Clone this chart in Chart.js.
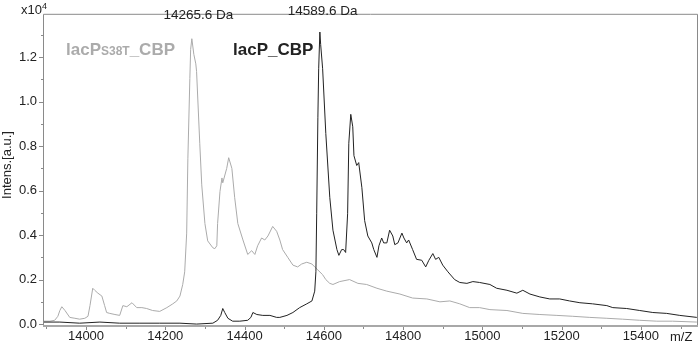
<!DOCTYPE html>
<html><head><meta charset="utf-8">
<script src="https://cdn.jsdelivr.net/npm/chart.js@4"></script>
<style>html,body{margin:0;padding:0;background:#fff}#wrap{position:relative;width:700px;height:344px}</style>
</head><body><div id="wrap"><canvas id="c" width="700" height="344"></canvas></div>
<script>
// m/z values and intensities (x10^4 a.u.)
const grayMz = [13891,13909,13921,13929,13934,13939,13947,13959,13972,13984,13997,14005,14010,14017,14022,14030,14040,14047,14052,14060,14073,14085,14093,14103,14116,14128,14141,14153,14168,14186,14204,14219,14229,14237,14244,14249,14254,14257,14262,14264,14267,14272,14277,14279,14287,14292,14300,14307,14320,14325,14330,14332,14338,14343,14345,14355,14360,14368,14375,14383,14396,14408,14418,14426,14433,14443,14451,14459,14471,14481,14489,14496,14509,14522,14534,14544,14557,14570,14577,14585,14597,14605,14615,14623,14640,14665,14686,14708,14734,14759,14792,14824,14860,14893,14918,14943,14968,14993,15019,15062,15102,15145,15188,15228,15271,15314,15354,15397,15440,15480,15541];
const grayInt = [0.013,0.013,0.017,0.035,0.061,0.078,0.061,0.030,0.026,0.022,0.026,0.035,0.083,0.161,0.152,0.139,0.126,0.083,0.052,0.048,0.043,0.039,0.083,0.078,0.096,0.074,0.074,0.070,0.061,0.057,0.074,0.091,0.104,0.126,0.178,0.235,0.409,0.743,1.104,1.235,1.283,1.213,1.170,1.135,0.813,0.626,0.452,0.374,0.343,0.339,0.352,0.452,0.596,0.657,0.635,0.700,0.748,0.700,0.570,0.452,0.378,0.313,0.330,0.313,0.352,0.387,0.378,0.396,0.439,0.417,0.378,0.335,0.300,0.265,0.257,0.270,0.278,0.270,0.257,0.243,0.222,0.200,0.183,0.178,0.191,0.200,0.183,0.178,0.161,0.148,0.135,0.117,0.113,0.100,0.104,0.091,0.074,0.074,0.065,0.061,0.048,0.043,0.039,0.035,0.030,0.026,0.022,0.017,0.013,0.013,0.009];
const blackMz = [13891,13934,13984,14035,14085,14136,14186,14237,14279,14320,14332,14340,14345,14350,14358,14370,14388,14408,14416,14421,14431,14446,14464,14481,14489,14507,14522,14539,14557,14570,14577,14580,14582,14585,14587,14590,14592,14597,14605,14615,14623,14633,14638,14645,14650,14655,14660,14663,14668,14673,14676,14683,14688,14696,14703,14711,14721,14726,14734,14739,14746,14751,14759,14766,14774,14779,14787,14797,14802,14809,14814,14824,14834,14847,14857,14865,14875,14882,14890,14900,14913,14930,14943,14961,14976,14993,15019,15036,15062,15087,15102,15120,15145,15170,15195,15220,15246,15278,15314,15329,15364,15397,15430,15465,15498,15541];
const blackInt = [0.009,0.009,0.004,0.009,0.004,0.004,0.004,0.004,0.000,0.004,0.017,0.039,0.070,0.052,0.026,0.013,0.013,0.017,0.030,0.052,0.043,0.039,0.039,0.030,0.030,0.039,0.052,0.074,0.091,0.104,0.148,0.235,0.496,0.930,1.148,1.313,1.257,1.148,0.857,0.570,0.422,0.335,0.309,0.335,0.335,0.322,0.496,0.813,0.943,0.887,0.757,0.713,0.726,0.613,0.465,0.396,0.365,0.335,0.300,0.352,0.387,0.365,0.365,0.422,0.396,0.357,0.365,0.409,0.387,0.365,0.378,0.335,0.291,0.287,0.257,0.287,0.317,0.291,0.300,0.265,0.235,0.200,0.187,0.183,0.191,0.187,0.178,0.161,0.152,0.139,0.152,0.135,0.122,0.113,0.113,0.104,0.096,0.091,0.083,0.074,0.070,0.061,0.052,0.048,0.039,0.030];
const xTicks = [14000,14200,14400,14600,14800,15000,15200,15400];
const xMinor = [13900,14100,14300,14500,14700,14900,15100,15300,15500];
const yTicks = [0.0,0.2,0.4,0.6,0.8,1.0,1.2];
const yMinor = [0.1,0.3,0.5,0.7,0.9,1.1,1.3];
const peakMz = [14265.6,14589.6];
const peakLabels = ['14265.6 Da','14589.6 Da'];
const seriesNames = ['lacP_CBP','lacPS38T_CBP'];

const FONT = '"Liberation Sans", Arial, Helvetica, sans-serif';
const GRAY = '#ababab', DARK = '#222222', AXIS = '#8a8a8a';

const deco = {
  id:'deco',
  afterDraw(chart){
    const ctx = chart.ctx, xs = chart.scales.x, ys = chart.scales.y, a = chart.chartArea;
    ctx.save();
    ctx.strokeStyle = AXIS; ctx.lineWidth = 1;
    ctx.beginPath();
    ctx.moveTo(a.left+0.5, a.bottom); ctx.lineTo(a.left+0.5, a.top+0.5); ctx.lineTo(a.right-0.5, a.top+0.5); ctx.lineTo(a.right-0.5, a.bottom);
    ctx.stroke();
    ctx.strokeStyle = '#a8a8a8'; ctx.lineWidth = 2;
    ctx.beginPath(); ctx.moveTo(a.left, a.bottom); ctx.lineTo(a.right, a.bottom); ctx.stroke();
    ctx.strokeStyle = AXIS; ctx.lineWidth = 1;
    ctx.beginPath();
    yTicks.forEach(v=>{const y=Math.round(ys.getPixelForValue(v))+0.5; ctx.moveTo(a.left-4,y); ctx.lineTo(a.left,y);});
    yMinor.forEach(v=>{const y=Math.round(ys.getPixelForValue(v))+0.5; ctx.moveTo(a.left-2,y); ctx.lineTo(a.left,y);});
    xTicks.forEach(v=>{const x=Math.round(xs.getPixelForValue(v))+0.5; ctx.moveTo(x,a.bottom+1); ctx.lineTo(x,a.bottom+4);});
    xMinor.forEach(v=>{const x=Math.round(xs.getPixelForValue(v))+0.5; if(x>a.left&&x<a.right){ctx.moveTo(x,a.bottom+1); ctx.lineTo(x,a.bottom+3);}});
    ctx.stroke();
    ctx.fillStyle = '#222'; ctx.textBaseline = 'alphabetic';
    ctx.font = '13px '+FONT; ctx.textAlign='right';
    ctx.fillText('x10', a.left-1, 14);
    ctx.font = '9px '+FONT; ctx.textAlign='left';
    ctx.fillText('4', a.left-1, 9);
    ctx.font = '13px '+FONT; ctx.textAlign='left';
    ctx.fillText('m/Z', 670, 341);
    ctx.save(); ctx.translate(11, 165); ctx.rotate(-Math.PI/2); ctx.textAlign='center';
    ctx.fillText('Intens.[a.u.]', 0, 0); ctx.restore();
    ctx.textAlign='center';
    ctx.font = '13.5px '+FONT;
    ctx.fillText(peakLabels[0], xs.getPixelForValue(peakMz[0])+7, 19);
    ctx.fillText(peakLabels[1], xs.getPixelForValue(peakMz[1])+3, 15);
    ctx.textAlign='left';
    ctx.font = 'bold 17px '+FONT; ctx.fillStyle = DARK;
    ctx.fillText(seriesNames[0], 233, 55);
    ctx.fillStyle = GRAY;
    let x = 66;
    ctx.fillText('lacP', x, 55); x += ctx.measureText('lacP').width;
    ctx.font = 'bold 12px '+FONT;
    ctx.fillText('S38T', x, 55); x += ctx.measureText('S38T').width;
    ctx.font = 'bold 17px '+FONT;
    ctx.fillText('_CBP', x, 55);
    ctx.restore();
  }
};

new Chart(document.getElementById('c'), {
  type:'line',
  data:{datasets:[
    {label:seriesNames[0], data:blackMz.map((m,i)=>({x:m,y:blackInt[i]})), borderColor:DARK, borderWidth:1, pointRadius:0, tension:0, fill:false},
    {label:seriesNames[1], data:grayMz.map((m,i)=>({x:m,y:grayInt[i]})), borderColor:GRAY, borderWidth:1, pointRadius:0, tension:0, fill:false}
  ]},
  options:{
    responsive:false, animation:false, devicePixelRatio:1,
    layout:{padding:{top:2,right:2,left:0,bottom:0}},
    plugins:{legend:{display:false}, tooltip:{enabled:false}},
    scales:{
      x:{type:'linear', min:13891.5, max:15544,
        afterBuildTicks:s=>{s.ticks=xTicks.map(v=>({value:v}));},
        afterFit:s=>{s.height=18;},
        grid:{display:false, drawTicks:false}, border:{display:false},
        ticks:{autoSkip:false, maxRotation:0, padding:3, color:'#222', font:{family:FONT,size:13}, callback:v=>String(v)}},
      y:{type:'linear', min:-0.00866, max:1.395,
        afterBuildTicks:s=>{s.ticks=yTicks.map(v=>({value:v}));},
        afterFit:s=>{s.width=43;},
        grid:{display:false, drawTicks:false}, border:{display:false},
        ticks:{padding:6, color:'#222', font:{family:FONT,size:13}, callback:v=>Number(v).toFixed(1)}}
    }
  },
  plugins:[deco]
});
</script></body></html>
